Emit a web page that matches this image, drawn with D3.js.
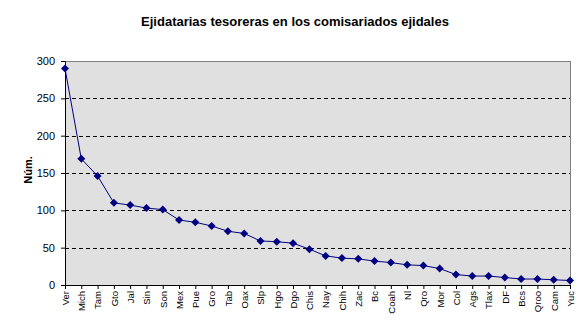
<!DOCTYPE html>
<html>
<head>
<meta charset="utf-8">
<script src="https://cdn.jsdelivr.net/npm/d3@7"></script>
<style>
  body { margin: 0; background: #fff; }
  text { font-family: "Liberation Sans", Arial, sans-serif; }
</style>
</head>
<body>
<div id="chart"></div>
<script>
// chart values
const estados = ["Ver","Mich","Tam","Gto","Jal","Sin","Son","Mex","Pue","Gro","Tab","Oax","Slp","Hgo","Dgo","Chis",
                 "Nay","Chih","Zac","Bc","Coah","Nl","Qro","Mor","Col","Ags","Tlax","DF","Bcs","Qroo","Cam","Yuc"];
const tesoreras = [290,169,146,110,107,103,101,87,84,79,72,69,59,58,56,48,
                   39,36,35,32,30,27,26,22,14,12,12,10,8,8,7,6];
const yTicks = [0,50,100,150,200,250,300];

let margin = {top: 61, right: 16, bottom: 42, left: 65},
    width = 586 - margin.left - margin.right,
    height = 327 - margin.top - margin.bottom;

let svg = d3.select("#chart")
    .append("svg")
        .attr("width", 586)
        .attr("height", 327);

svg.append("text")
    .attr("x", 295)
    .attr("y", 26)
    .attr("text-anchor", "middle")
    .attr("font-size", "13px")
    .attr("font-weight", "bold")
    .text("Ejidatarias tesoreras en los comisariados ejidales");

svg.append("text")
    .attr("transform", "translate(32, 170) rotate(-90)")
    .attr("text-anchor", "middle")
    .attr("font-size", "11px")
    .attr("font-weight", "bold")
    .text("Núm.");

let g = svg.append("g")
    .attr("transform", `translate(${margin.left}, ${margin.top})`);

const x = d3.scalePoint()
    .domain(estados)
    .range([0, width]);

const y = d3.scaleLinear()
    .domain([0, 300])
    .range([height, 0]);

// plot background
g.append("rect")
    .attr("width", width)
    .attr("height", height)
    .attr("fill", "#e0e0e0")
    .attr("stroke", "#808080")
    .attr("stroke-width", 1)
    .attr("shape-rendering", "crispEdges");

// dashed gridlines
g.append("g")
    .selectAll("line")
    .data(yTicks.filter(d => d > 0 && d < 300))
    .join("line")
        .attr("x1", 0)
        .attr("x2", width)
        .attr("y1", d => Math.round(y(d)) + 0.5)
        .attr("y2", d => Math.round(y(d)) + 0.5)
        .attr("stroke", "#000")
        .attr("stroke-dasharray", "4,3");

// axes
let yAxis = g.append("g")
    .call(d3.axisLeft(y).tickValues(yTicks).tickSize(4).tickPadding(6));
yAxis.selectAll("text").attr("font-size", "11px").attr("fill", "#000").attr("font-family", "Liberation Sans, Arial, sans-serif");
yAxis.select(".domain").attr("stroke", "#000");

let xAxis = g.append("g")
    .attr("transform", `translate(0, ${height})`)
    .call(d3.axisBottom(x).tickSize(4).tickSizeOuter(0));
xAxis.select(".domain").attr("stroke", "#000");
xAxis.selectAll("text")
    .attr("font-size", "9.5px")
    .attr("fill", "#000")
    .attr("font-family", "Liberation Sans, Arial, sans-serif")
    .attr("text-anchor", "end")
    .attr("dy", "0.35em")
    .attr("transform", "translate(0, 2) rotate(-90)")
    .attr("x", -4)
    .attr("y", 0);

// line and markers
const line = d3.line()
    .x((d, i) => x(estados[i]))
    .y(d => y(d));

g.append("path")
    .datum(tesoreras)
    .attr("fill", "none")
    .attr("stroke", "#000080")
    .attr("stroke-width", 1)
    .attr("d", line);

g.append("g")
    .selectAll("path")
    .data(tesoreras)
    .join("path")
        .attr("transform", (d, i) => `translate(${x(estados[i])}, ${y(d)})`)
        .attr("d", "M0,-4L4,0L0,4L-4,0Z")
        .attr("fill", "#000080");
</script>
</body>
</html>
